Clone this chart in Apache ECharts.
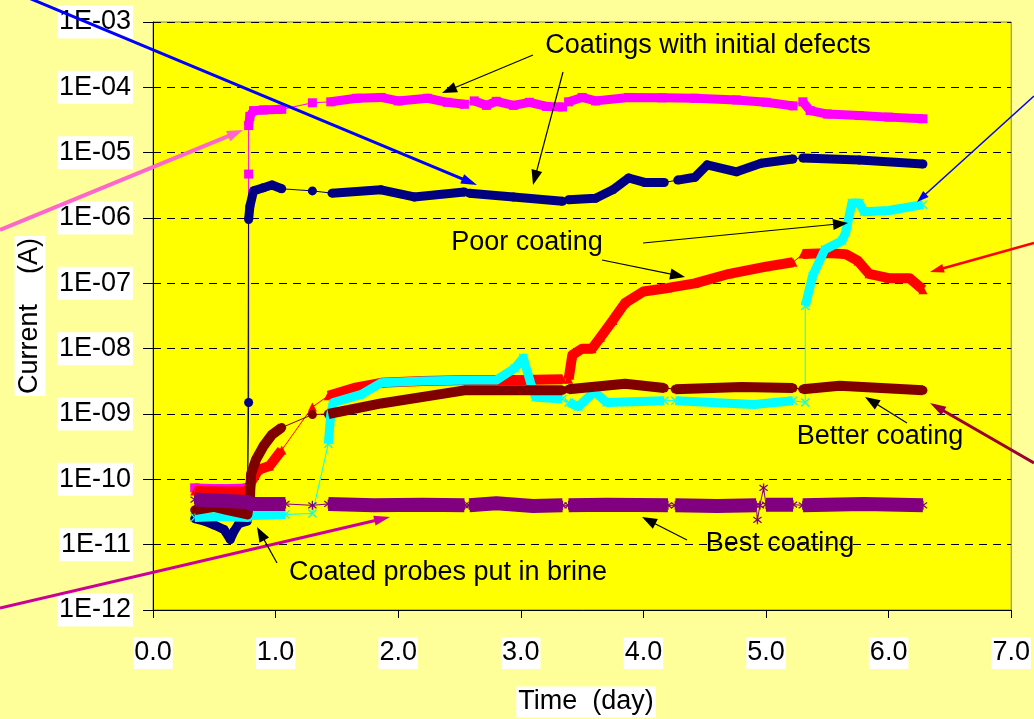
<!DOCTYPE html>
<html>
<head>
<meta charset="utf-8">
<script src="https://cdn.jsdelivr.net/npm/echarts@6/dist/echarts.min.js"></script>
<style>
  html, body { margin: 0; padding: 0; background: #FFFF99; }
  #chart { width: 1034px; height: 719px; }
</style>
</head>
<body>
<div id="chart"></div>
<script>
// data: [day, current in A], null = break in the band
var magentaPts = [
  [0.34, 7.4e-11], [0.55, 7.2e-11], [0.77, 7.4e-11], null,
  [0.78, 4.7e-6], null,
  [0.78, 2.6e-5], [0.79, 3.6e-5], [0.82, 4.4e-5], [0.9, 4.5e-5], [1.05, 4.6e-5], null,
  [1.30, 5.8e-5], null,
  [1.45, 6.0e-5], [1.66, 6.8e-5], [1.86, 7.0e-5], [2.0, 6.2e-5], [2.24, 6.8e-5], [2.4, 5.9e-5], [2.54, 5.5e-5], null,
  [2.62, 6.2e-5], [2.72, 5.3e-5], [2.8, 6.1e-5], [2.94, 5.3e-5], [3.07, 5.9e-5], [3.21, 5.1e-5], [3.34, 5.0e-5], null,
  [3.39, 6.0e-5], [3.5, 7.0e-5], [3.61, 6.2e-5], [3.88, 7.0e-5], [4.15, 6.9e-5], [4.42, 6.8e-5], [4.76, 6.4e-5], [5.0, 5.9e-5], [5.22, 5.2e-5], null,
  [5.30, 6.0e-5], [5.36, 4.4e-5], [5.5, 3.9e-5], [5.76, 3.7e-5], [6.0, 3.5e-5], [6.28, 3.3e-5]
];
var navyPts = [
  [0.34, 2.5e-11], [0.42, 2.3e-11], [0.5, 2.0e-11], [0.58, 1.7e-11], [0.63, 1.2e-11], [0.66, 1.6e-11], [0.7, 2.1e-11], [0.77, 2.3e-11], null,
  [0.78, 1.5e-9], null,
  [0.78, 9.5e-7], [0.79, 1.5e-6], [0.82, 2.6e-6], [0.9, 2.9e-6], [0.97, 3.2e-6], [1.05, 2.8e-6], null,
  [1.30, 2.6e-6], null,
  [1.46, 2.4e-6], [1.86, 2.7e-6], [2.13, 2.1e-6], [2.54, 2.5e-6], null,
  [2.58, 2.4e-6], [2.94, 2.1e-6], [3.34, 1.8e-6], null,
  [3.39, 1.9e-6], [3.61, 2.0e-6], [3.75, 2.7e-6], [3.88, 4.1e-6], [4.01, 3.5e-6], [4.17, 3.5e-6], null,
  [4.28, 3.8e-6], [4.42, 4.2e-6], [4.52, 6.5e-6], [4.76, 5.1e-6], [4.96, 6.9e-6], [5.22, 8.0e-6], null,
  [5.30, 8.3e-6], [5.76, 7.7e-6], [6.28, 6.7e-6]
];
var redPts = [
  [0.34, 6.6e-11], [0.55, 6.5e-11], [0.77, 6.5e-11], [0.8, 9.0e-11], [0.86, 1.4e-10], [0.95, 1.6e-10], [1.05, 2.8e-10], null,
  [1.30, 1.28e-9], null,
  [1.43, 1.9e-9], [1.64, 2.5e-9], [1.86, 3.0e-9], [2.2, 3.2e-9], [2.6, 3.3e-9], [3.0, 3.3e-9], [3.34, 3.4e-9], null,
  [3.39, 3.4e-9], [3.42, 8.0e-9], [3.5, 1.0e-8], [3.58, 1.0e-8], [3.65, 1.5e-8], [3.75, 2.7e-8], [3.85, 5.0e-8], [4.0, 7.5e-8],
  [4.2, 8.5e-8], [4.42, 1.0e-7], [4.7, 1.4e-7], [5.0, 1.8e-7], [5.22, 2.1e-7], null,
  [5.30, 2.8e-7], [5.5, 2.9e-7], [5.65, 2.8e-7], [5.75, 2.2e-7], [5.84, 1.4e-7], [6.0, 1.2e-7], [6.17, 1.2e-7], [6.28, 8.0e-8]
];
var cyanPts = [
  [0.34, 2.6e-11], [0.55, 2.7e-11], [0.77, 2.6e-11], [0.8, 2.8e-11], [1.08, 2.9e-11], null,
  [1.30, 3.0e-11], null,
  [1.43, 3.5e-10], [1.45, 1.0e-9], [1.47, 1.5e-9], [1.7, 2.0e-9], [1.86, 3.0e-9], [2.2, 3.2e-9], [2.6, 3.3e-9], [2.8, 3.3e-9],
  [2.95, 5.0e-9], [3.02, 7.2e-9], [3.08, 3.0e-9], [3.12, 1.8e-9], [3.34, 1.7e-9], null,
  [3.39, 1.5e-9], [3.47, 1.3e-9], [3.6, 2.2e-9], [3.7, 1.5e-9], [4.17, 1.6e-9], null,
  [4.26, 1.6e-9], [4.9, 1.4e-9], [5.22, 1.6e-9], null,
  [5.32, 1.5e-9], null,
  [5.32, 4.5e-8], [5.38, 1.3e-7], [5.48, 3.3e-7], [5.62, 4.5e-7], [5.65, 6.0e-7], [5.7, 1.7e-6], [5.76, 1.7e-6],
  [5.8, 1.25e-6], [6.0, 1.3e-6], [6.28, 1.6e-6]
];
var darkRedPts = [
  [0.34, 3.4e-11], [0.5, 3.8e-11], [0.6, 3.4e-11], [0.77, 2.9e-11], [0.79, 5.0e-11], [0.8, 1.2e-10], [0.84, 2.0e-10],
  [0.9, 3.2e-10], [0.97, 4.8e-10], [1.05, 6.2e-10], null,
  [1.30, 9.8e-10], null,
  [1.43, 1.0e-9], [1.86, 1.45e-9], [2.54, 2.3e-9], [3.34, 2.3e-9], null,
  [3.39, 2.4e-9], [3.85, 2.9e-9], [4.17, 2.5e-9], null,
  [4.26, 2.4e-9], [4.8, 2.6e-9], [5.22, 2.5e-9], null,
  [5.30, 2.4e-9], [5.6, 2.7e-9], [6.28, 2.3e-9]
];
var purplePts = [
  [0.34, 4.9e-11], [0.55, 4.7e-11], [0.77, 4.5e-11], [0.8, 4.2e-11], [1.08, 4.2e-11], null,
  [1.30, 4.0e-11], null,
  [1.43, 4.2e-11], [1.8, 4.0e-11], [2.2, 4.1e-11], [2.54, 4.0e-11], null,
  [2.58, 4.0e-11], [2.8, 4.3e-11], [3.1, 3.9e-11], [3.34, 4.0e-11], null,
  [3.39, 4.0e-11], [3.7, 4.1e-11], [4.2, 4.0e-11], null,
  [4.26, 4.0e-11], [4.6, 3.9e-11], [4.92, 4.0e-11], null,
  [4.93, 2.4e-11], null,
  [4.95, 4.0e-11], null,
  [4.98, 7.4e-11], null,
  [5.0, 4.1e-11], [5.22, 4.1e-11], null,
  [5.30, 4.0e-11], [5.8, 4.2e-11], [6.28, 4.0e-11]
];

var xTicks = ['0.0', '1.0', '2.0', '3.0', '4.0', '5.0', '6.0', '7.0'];
var yTicks = ['1E-12', '1E-11', '1E-10', '1E-09', '1E-08', '1E-07', '1E-06', '1E-05', '1E-04', '1E-03'];

var FONT = '27px "Liberation Sans", Arial, sans-serif';
var FAM = '"Liberation Sans", Arial, sans-serif';

var xMark = 'path://M0,1L1,0L5,4L9,0L10,1L6,5L10,9L9,10L5,6L1,10L0,9L4,5Z';
var starMark = 'path://M4.3,0H5.7V3.8L9,1.3L9.8,2.4L6.3,5L9.8,7.6L9,8.7L5.7,6.2V10H4.3V6.2L1,8.7L0.2,7.6L3.7,5L0.2,2.4L1,1.3L4.3,3.8Z';

var coatings = [
  { pts: magentaPts, color: '#FF00FF', sym: 'rect', band: 9 },
  { pts: navyPts, color: '#000080', sym: 'circle', band: 9 },
  { pts: redPts, color: '#FF0000', sym: 'triangle', band: 10 },
  { pts: cyanPts, color: '#00FFFF', sym: xMark, band: 9 },
  { pts: darkRedPts, color: '#800000', sym: 'circle', band: 10 },
  { pts: purplePts, color: '#800080', sym: starMark, band: 14 }
];

var series = [];
coatings.forEach(function (c) {
  // thin connecting line with markers
  series.push({
    type: 'line', z: 2, silent: true,
    data: c.pts.filter(function (p) { return p; }),
    symbol: c.sym, symbolSize: 9, showAllSymbol: true,
    itemStyle: { color: c.color },
    lineStyle: { color: c.color, width: 1 }
  });
});
coatings.forEach(function (c) {
  // dense marker band drawn as a thick line
  series.push({
    type: 'line', z: 3, silent: true,
    data: c.pts.map(function (p) { return p ? p : ['-', '-']; }),
    showSymbol: false, connectNulls: false,
    lineStyle: { color: c.color, width: c.band, cap: 'butt', join: 'round' }
  });
});

function arrow(x1, y1, x2, y2, color, w, hl, hw) {
  var dx = x2 - x1, dy = y2 - y1, L = Math.sqrt(dx * dx + dy * dy);
  var ux = dx / L, uy = dy / L;
  var bx = x2 - ux * hl, by = y2 - uy * hl;
  var px = -uy * hw / 2, py = ux * hw / 2;
  return [
    { type: 'line', z: 100, shape: { x1: x1, y1: y1, x2: bx + ux * 2, y2: by + uy * 2 }, style: { stroke: color, lineWidth: w } },
    { type: 'polygon', z: 100, shape: { points: [[x2, y2], [bx + px, by + py], [bx - px, by - py]] }, style: { fill: color } }
  ];
}

function label(text, x, y, extra) {
  var st = { text: text, font: FONT, fill: '#000', align: 'center', verticalAlign: 'middle' };
  for (var k in extra) st[k] = extra[k];
  return { type: 'text', z: 101, x: x, y: y, style: st };
}

var graphics = [].concat(
  arrow(0, -14, 477, 185, '#0000FF', 3, 16, 10),
  arrow(0, 230, 243, 130, '#FF66CC', 4, 16, 11),
  arrow(1034, 96, 917, 202, '#0000FF', 1.5, 12, 8),
  arrow(1034, 243, 930, 272, '#FF0000', 2.5, 14, 9),
  arrow(1034, 463, 930, 403, '#990033', 3, 16, 10),
  arrow(0, 608, 390, 517, '#CC0099', 3, 16, 10),
  arrow(533, 55, 442, 93, '#000', 1.2, 15, 11),
  arrow(563, 72, 533, 185, '#000', 1.2, 15, 11),
  arrow(643, 243, 848, 223, '#000', 1.2, 15, 11),
  arrow(602, 260, 685, 277, '#000', 1.2, 15, 11),
  arrow(907, 423, 865, 397, '#000', 1.2, 15, 11),
  arrow(687, 540, 642, 517, '#000', 1.2, 15, 11),
  arrow(277, 563, 257, 527, '#000', 1.2, 15, 11),
  [
    label('Coatings with initial defects', 708, 46),
    label('Poor coating', 527, 243),
    label('Better coating', 880, 437),
    label('Best coating', 780, 544),
    label('Coated probes put in brine', 448, 573),
    label('Time  (day)', 586, 702, { backgroundColor: '#fff', padding: [2, 2] }),
    {
      type: 'text', z: 101, x: 30, y: 316, rotation: Math.PI / 2,
      style: { text: 'Current    (A)', font: FONT, fill: '#000', align: 'center', verticalAlign: 'middle', backgroundColor: '#fff', padding: [2, 2] }
    }
  ]
);

var myChart = echarts.init(document.getElementById('chart'));

var option = {
  animation: false,
  backgroundColor: '#FFFF99',
  grid: { left: 153, right: 13, top: 22, bottom: 109, show: true, backgroundColor: '#FFFF00', borderColor: '#808080', borderWidth: 1 },
  xAxis: {
    type: 'value', min: 0, max: 7, interval: 1,
    axisLine: { show: true, onZero: false, lineStyle: { color: '#000', width: 1 } },
    axisTick: { show: true, length: 8, lineStyle: { color: '#000' } },
    axisLabel: {
      formatter: function (v) { return xTicks[Math.round(v)]; },
      color: '#000', fontSize: 27, fontFamily: FAM, margin: 27,
      backgroundColor: '#fff', padding: [1, 1], lineHeight: 30,
      showMinLabel: true, showMaxLabel: true
    },
    splitLine: { show: false }
  },
  yAxis: {
    type: 'log', logBase: 10, min: 1e-12, max: 1e-3, splitNumber: 9,
    axisLine: { show: true, lineStyle: { color: '#000', width: 1 } },
    axisTick: { show: true, length: 10, lineStyle: { color: '#000' } },
    axisLabel: {
      formatter: function (v) { return yTicks[Math.round(Math.log10(v)) + 12]; },
      color: '#000', fontSize: 27, fontFamily: FAM, margin: 20,
      backgroundColor: '#fff', padding: [1, 2], lineHeight: 31
    },
    splitLine: { show: true, showMinLine: false, showMaxLine: false, lineStyle: { type: [8, 6], color: '#000', width: 1 } }
  },
  graphic: graphics,
  series: series
};

myChart.setOption(option);
</script>
</body>
</html>
